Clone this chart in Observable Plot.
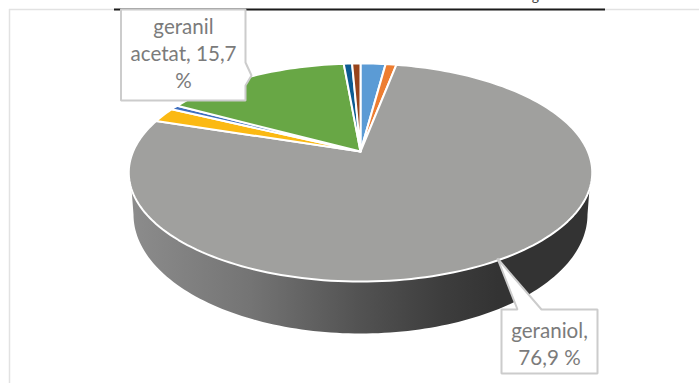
<!DOCTYPE html>
<html>
<head>
<meta charset="utf-8">
<style>html,body{margin:0;padding:0;background:#fff}svg{display:block}</style>
<script src="https://cdn.jsdelivr.net/npm/d3@7"></script>
<script src="https://cdn.jsdelivr.net/npm/@observablehq/plot@0.6"></script>
</head>
<body>
<div id="chart"></div>
<script>
// Data (percent), clockwise from 12 o'clock
const sliceNames = ["s1", "s2", "geraniol", "s4", "s5", "geranil acetat", "s7", "s8"];
const sliceValues = [2.1, 0.9, 76.9, 2.2, 0.7, 15.7, 0.7, 0.7];
const sliceColors = ["#5b9bd5", "#ed7d31", "#a0a09e", "#fbb913", "#3f6fbf", "#68a745", "#0b5a92", "#97441c"];

// Layout of the tilted disc (perspective view of a circle)
const pie = {cx: 360, cy: 151, a: 227.4, b: 105, k: -0.1927};
const wall = {cx: 360, cy: 214, rx: 227, ry: 119, shoulderY: 188, shoulderDx: 229};
const project = (deg) => {
  const t = deg * Math.PI / 180, u = Math.sin(t), v = -Math.cos(t), d = 1 + pie.k * v;
  return {x: pie.cx + pie.a * u / d, y: pie.cy + pie.b * v / d};
};

// Slices built from the values
const total = d3.sum(sliceValues);
let acc = 0;
const slicePts = [];
sliceValues.forEach((val, i) => {
  const a0 = acc / total * 360, a1 = (acc + val) / total * 360;
  acc += val;
  const pts = [{x: pie.cx, y: pie.cy}];
  const n = Math.max(2, Math.ceil((a1 - a0) / 1.5));
  for (let j = 0; j <= n; j++) pts.push(project(a0 + (a1 - a0) * j / n));
  pts.push({x: pie.cx, y: pie.cy});
  pts.forEach(p => slicePts.push({...p, name: sliceNames[i]}));
});

// Side wall
const wallPts = [{x: wall.cx + wall.shoulderDx, y: wall.shoulderY}];
for (let j = 0; j <= 120; j++) {
  const t = Math.PI * j / 120;
  wallPts.push({x: wall.cx + wall.rx * Math.cos(t), y: wall.cy + wall.ry * Math.sin(t)});
}
wallPts.push({x: wall.cx - wall.shoulderDx, y: wall.shoulderY});

// Callouts
const calloutA = [[120.5,9],[245,9],[245,62],[251,75],[245,85],[245,100],[120.5,100],[120.5,9]].map(([x,y]) => ({x,y}));
const calloutB = [[501,309],[517,309],[497,258],[541,309],[597,309],[597,373],[501,373],[501,309]].map(([x,y]) => ({x,y}));
const labelText = [
  {x: 183, y: 52, text: `geranil\nacetat, ${String(sliceValues[5]).replace(".", ",")}\n%`},
  {x: 549, y: 342, text: `geraniol,\n${String(sliceValues[2]).replace(".", ",")} %`}
];

const chart = Plot.plot({
  width: 699, height: 383,
  margin: 0,
  x: {domain: [0, 699], range: [0, 699], axis: null},
  y: {domain: [0, 383], range: [0, 383], axis: null},
  color: {domain: sliceNames, range: sliceColors},
  style: {background: "#fff"},
  marks: [
    Plot.ruleX([9], {y1: 9, y2: 383, stroke: "#e2e2e2", strokeWidth: 1.5}),
    Plot.ruleY([9], {x1: 9, x2: 699, stroke: "#e2e2e2", strokeWidth: 1.5}),
    Plot.ruleY([9], {x1: 114, x2: 605, stroke: "#1c1c1c", strokeWidth: 2}),
    Plot.text(["g"], {x: 535, y: -4, text: d => d, fontSize: 14, fontFamily: "Lato", fill: "#444"}),
    Plot.line(wallPts, {x: "x", y: "y", fill: "url(#wallShade)", stroke: "none"}),
    Plot.line(slicePts, {x: "x", y: "y", z: "name", fill: "name", stroke: "#fff", strokeWidth: 2, strokeLinejoin: "round"}),
    Plot.line(calloutA, {x: "x", y: "y", fill: "#fff", stroke: "#cccccc", strokeWidth: 2, strokeLinejoin: "miter"}),
    Plot.line(calloutB, {x: "x", y: "y", fill: "#fff", stroke: "#cccccc", strokeWidth: 2, strokeLinejoin: "miter"}),
    Plot.text(labelText, {x: "x", y: "y", text: "text", fontFamily: "Lato", fontSize: 20.6, lineHeight: 1.32, fill: "#7b7b7b"})
  ]
});

// Shading of the side wall
const stops = [[0, "#8c8c8c"], [0.26, "#747474"], [0.5, "#525252"], [0.68, "#3d3d3d"], [0.8, "#333"], [1, "#333"]];
const defs = d3.select(chart).insert("defs", ":first-child");
const grad = defs.append("linearGradient").attr("id", "wallShade").attr("gradientUnits", "userSpaceOnUse")
  .attr("x1", wall.cx - wall.shoulderDx).attr("x2", wall.cx + wall.shoulderDx).attr("y1", 0).attr("y2", 0);
stops.forEach(([o, c]) => grad.append("stop").attr("offset", o).attr("stop-color", c));

document.getElementById("chart").append(chart);
</script>
</body>
</html>
